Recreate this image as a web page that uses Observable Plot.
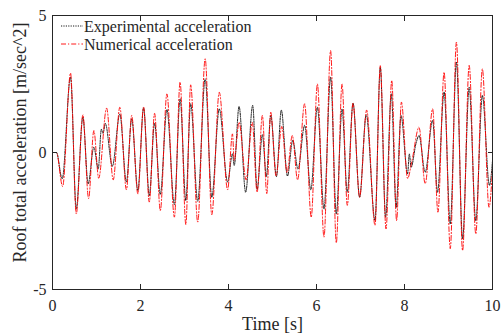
<!DOCTYPE html>
<html>
<head>
<meta charset="utf-8">
<script src="https://cdn.jsdelivr.net/npm/d3@7"></script>
<script src="https://cdn.jsdelivr.net/npm/@observablehq/plot@0.6"></script>
<style>
  html, body { margin: 0; padding: 0; background: #fff; }
  #wrap { position: relative; width: 501px; height: 334px; }
  #legend { position: absolute; left: 0; top: 0; }
</style>
</head>
<body>
<div id="wrap"></div>
<script>
// ---- data ----
const xTicks = [0, 2, 4, 6, 8, 10];
const yTicks = [-5, 0, 5];
const seriesNames = ["Experimental acceleration", "Numerical acceleration"];

const expTime = [0, 0.09, 0.22, 0.41, 0.54, 0.69, 0.81, 0.94, 1.04, 1.11, 1.15, 1.20, 1.36, 1.53, 1.68, 1.80, 1.94,
  2.07, 2.20, 2.32, 2.45, 2.60, 2.77, 2.90, 3.03, 3.14, 3.30, 3.47, 3.62, 3.79, 3.98, 4.09, 4.13, 4.24, 4.39,
  4.55, 4.65, 4.77, 4.86, 4.96, 5.09, 5.20, 5.34, 5.46, 5.58, 5.73, 5.87, 6.02, 6.17, 6.32, 6.45, 6.58, 6.70,
  6.83, 6.98, 7.13, 7.33, 7.45, 7.57, 7.70, 7.81, 7.92, 8.07, 8.11, 8.15, 8.26, 8.33, 8.47, 8.64, 8.75, 8.90,
  9.04, 9.18, 9.32, 9.47, 9.62, 9.77, 9.93, 10.0];
const expAccel = [0, 0, -0.96, 2.75, -2.06, 1.29, -1.14, 0.19, -0.6, 0.85, 0.7, 1.06, -0.5, 1.4, -1.08, 1.23, -1.39,
  1.63, -1.57, 1.07, -1.53, 1.57, -1.9, 1.96, -1.75, 1.78, -1.78, 2.69, -1.63, 1.59, -1.08, -0.05, -0.47, 1.68, -1.45,
  1.72, -1.35, 0.65, -0.88, 1.35, -0.88, 1.55, -0.86, 0.44, -0.6, 0.99, -1.36, 1.65, -2.06, 2.75, -2.24, 1.59, -1.45,
  1.8, -1.63, 1.38, -2.48, 3.11, -2.36, 2.14, -2.0, 1.35, -0.78, -0.05, -0.54, 0.32, 0.62, -0.72, 1.17, -1.45, 2.2,
  -2.6, 3.3, -3.15, 2.38, -2.48, 2.08, -1.2, -0.3];

const numTime = [0, 0.09, 0.23, 0.41, 0.54, 0.69, 0.82, 0.94, 1.05, 1.23, 1.38, 1.53, 1.68, 1.80, 1.94,
  2.07, 2.20, 2.32, 2.45, 2.60, 2.77, 2.90, 3.03, 3.14, 3.30, 3.47, 3.62, 3.79, 3.98, 4.09, 4.13, 4.24, 4.40,
  4.54, 4.65, 4.77, 4.87, 4.96, 5.08, 5.21, 5.33, 5.45, 5.57, 5.73, 5.88, 6.02, 6.17, 6.32, 6.45, 6.58, 6.70,
  6.83, 6.98, 7.14, 7.33, 7.45, 7.58, 7.71, 7.82, 7.93, 8.07, 8.17, 8.33, 8.47, 8.64, 8.76, 8.90,
  9.04, 9.18, 9.32, 9.47, 9.62, 9.77, 9.92, 10.0];
const numAccel = [0, 0, -1.24, 2.9, -2.24, 1.37, -1.68, 0.8, -0.94, 1.62, -1.0, 1.65, -1.36, 1.35, -1.51,
  1.66, -1.81, 1.43, -2.12, 2.14, -2.36, 2.57, -2.63, 2.47, -2.54, 3.42, -2.27, 2.2, -1.36, 0.68, -0.29, 1.1, -1.0,
  1.1, -1.45, 1.35, -1.5, 1.47, -0.85, 0.95, -0.73, 0.62, -1.0, 1.78, -2.36, 2.5, -3.09, 3.72, -3.3, 2.5, -1.93,
  1.8, -1.63, 1.55, -2.66, 3.17, -2.79, 2.63, -2.48, 1.84, -0.95, -0.3, 0.92, -1.14, 1.59, -2.18, 2.93,
  -3.51, 4.03, -3.58, 3.18, -2.97, 3.05, -2.0, -0.6];

// ---- build tables ----
const expData = expTime.map((t, i) => ({t, a: expAccel[i]}));
const numData = numTime.map((t, i) => ({t, a: numAccel[i]}));

const axisColor = "#262626";
const font = "'Liberation Serif', 'Times New Roman', serif";
const expStyle = {stroke: "#000000", strokeWidth: 0.9, dash: "1.2,1.2"};
const numStyle = {stroke: "#ff0000", strokeWidth: 0.9, dash: "5,2,1.2,2"};

const chart = Plot.plot({
  width: 501,
  height: 334,
  marginLeft: 52,
  marginRight: 9,
  marginTop: 15,
  marginBottom: 45,
  style: {fontFamily: font, fontSize: "16px", color: axisColor, background: "#fff", overflow: "visible"},
  x: {domain: [0, 10]},
  y: {domain: [-5, 5]},
  marks: [
    Plot.line(expData, {x: "t", y: "a", curve: "monotone-x", stroke: expStyle.stroke,
      strokeWidth: expStyle.strokeWidth, strokeDasharray: expStyle.dash}),
    Plot.line(numData, {x: "t", y: "a", curve: "monotone-x", stroke: numStyle.stroke,
      strokeWidth: numStyle.strokeWidth, strokeDasharray: numStyle.dash}),
    // inward ticks
    Plot.axisX({anchor: "bottom", ticks: xTicks.slice(1, -1), tickSize: -5, tickFormat: () => "", label: null, stroke: axisColor}),
    Plot.axisX({anchor: "top", ticks: xTicks.slice(1, -1), tickSize: -5, tickFormat: () => "", label: null, stroke: axisColor}),
    Plot.axisY({anchor: "left", ticks: [0], tickSize: -5, tickFormat: () => "", label: null, stroke: axisColor}),
    Plot.axisY({anchor: "right", ticks: [0], tickSize: -5, tickFormat: () => "", label: null, stroke: axisColor}),
    // tick labels
    Plot.axisX({anchor: "bottom", ticks: xTicks, tickSize: 0, tickPadding: 10, tickFormat: d => String(d), label: null, fontSize: 16}),
    Plot.axisY({anchor: "left", ticks: yTicks, tickSize: 0, tickPadding: 6, tickFormat: d => String(d), label: null, fontSize: 16}),
    // axis titles
    Plot.text(["Time [s]"], {frameAnchor: "bottom", dy: 28, lineAnchor: "top", fontSize: 18, fill: axisColor}),
    Plot.text(["Roof total acceleration [m/sec^2]"], {frameAnchor: "left", textAnchor: "middle", lineAnchor: "middle",
      dx: -32, dy: -10, rotate: -90, fontSize: 18, fill: axisColor}),
    Plot.frame({stroke: axisColor, strokeWidth: 1})
  ]
});

const wrap = document.getElementById("wrap");
wrap.appendChild(chart);

// legend overlay (inside the axes, top-left, no box)
const ns = "http://www.w3.org/2000/svg";
const leg = document.createElementNS(ns, "svg");
leg.setAttribute("id", "legend");
leg.setAttribute("width", 501);
leg.setAttribute("height", 334);
const rows = [
  {name: seriesNames[0], s: expStyle, y: 26},
  {name: seriesNames[1], s: numStyle, y: 44}
];
rows.forEach(r => {
  const ln = document.createElementNS(ns, "line");
  ln.setAttribute("x1", 61); ln.setAttribute("x2", 83);
  ln.setAttribute("y1", r.y); ln.setAttribute("y2", r.y);
  ln.setAttribute("stroke", r.s.stroke);
  ln.setAttribute("stroke-width", r.s.strokeWidth);
  ln.setAttribute("stroke-dasharray", r.s.dash);
  leg.appendChild(ln);
  const tx = document.createElementNS(ns, "text");
  tx.setAttribute("x", 84);
  tx.setAttribute("y", r.y + 6);
  tx.setAttribute("font-family", font);
  tx.setAttribute("font-size", 16);
  tx.setAttribute("fill", axisColor);
  tx.textContent = r.name;
  leg.appendChild(tx);
});
wrap.appendChild(leg);
</script>
</body>
</html>
